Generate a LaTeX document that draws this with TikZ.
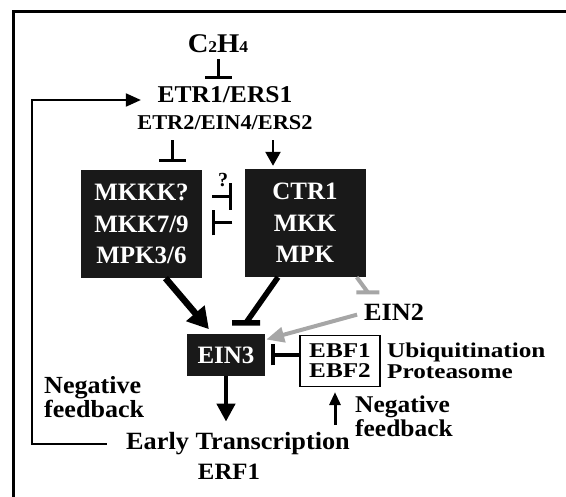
\documentclass[tikz,border=0pt]{standalone}
\usepackage{fontspec}
\setmainfont{Liberation Serif}
\newfontfamily\wideserif{Liberation Serif}[FakeStretch=1.06]
\newfontfamily\widerserif{Liberation Serif}[FakeStretch=1.2]
\usepackage{tikz}
\usetikzlibrary{arrows.meta, positioning, calc}

\begin{document}
\begin{tikzpicture}[
                x=1pt, y=1pt,
                lbl/.style = {inner sep=0pt, anchor=base, font=\wideserif\bfseries\fontsize{24.8}{24.8}\selectfont},
                note/.style = {inner sep=0pt, anchor=north west, align=left},
                kinase/.style = {rectangle, fill=black!90, text=white, align=center, inner sep=0pt,
                                 minimum width=121pt, minimum height=108pt, font=\bfseries\fontsize{25}{31.5}\selectfont},
                act/.style = {-{Triangle[width=15pt, length=14pt]}, line width=2.5pt},
                inhibit/.style = {-{Bar[width=27pt]}, line width=3pt},
                greyline/.style = {draw=black!35, line width=4pt}
              ]
              \useasboundingbox (0,0) rectangle (566,-497);
              \draw[line width=3pt] (13,-510) |- (580,-12);
              % Nodes
              \node[lbl, font=\wideserif\bfseries\fontsize{27}{27}\selectfont] (c2h4) at (218,-53)
                   {C{\fontsize{16.5}{16.5}\selectfont 2}H{\fontsize{16.5}{16.5}\selectfont 4}};
              \node[lbl, font=\wideserif\bfseries\fontsize{24.1}{24.1}\selectfont] (etr1) at (225,-103) {ETR1/ERS1};
              \node[lbl, font=\wideserif\bfseries\fontsize{21.1}{21.1}\selectfont] (etr2) at (225,-130) {ETR2/EIN4/ERS2};
              \node[kinase] (mkkk) at (141.5,-224) {MKKK?\\MKK7/9\\MPK3/6};
              \node[kinase] (ctr1) at (305,-223) {CTR1\\MKK\\MPK};
              \node[lbl, font=\bfseries\fontsize{20}{20}\selectfont] (qm) at (223,-187) {?};
              \node[kinase, minimum width=78pt, minimum height=42pt] (ein3) at (226,-355) {EIN3};
              \node[lbl] (ein2) at (394,-321) {EIN2};
              \node[draw, line width=1.2pt, align=center, inner sep=0pt, minimum width=80pt, minimum height=51pt,
                    font=\widerserif\bfseries\fontsize{21}{20}\selectfont] (ebf) at (340,-361) {EBF1\\EBF2};
              \node[note, font=\widerserif\bfseries\fontsize{21}{21}\selectfont]
                   (ubq) at (387,-343) {Ubiquitination\\Proteasome};
              \node[note, font=\wideserif\bfseries\fontsize{24.6}{22}\selectfont]
                   (negl) at (44,-376) {Negative\\feedback};
              \node[note, font=\wideserif\bfseries\fontsize{24}{24}\selectfont]
                   (negr) at (355,-396) {Negative\\feedback};
              \node[lbl] (erly) at (238,-450) {Early Transcription};
              \node[lbl, font=\wideserif\bfseries\fontsize{23.4}{23.4}\selectfont] (erf1) at (229,-480) {ERF1};
              % Connections
              \coordinate (fb) at (32,-100);
              \draw[-{Triangle[width=13pt, length=15pt]}, line width=2pt, shorten >=16.5pt]
                   ([xshift=-19pt]erly.west) -| (fb) -- (fb -| etr1.west);
              \draw[inhibit, shorten <=6pt, shorten >=8pt] (c2h4.south) -- (c2h4.south |- etr1.north);
              \draw[inhibit, shorten <=10pt, shorten >=8pt] ([xshift=30.5pt]mkkk.north |- etr2.south) -- ([xshift=30.5pt]mkkk.north);
              \draw[act, shorten <=10pt, shorten >=3pt] ([xshift=-32pt]ctr1.north |- etr2.south) -- ([xshift=-32pt]ctr1.north);
              \draw[inhibit, shorten <=10pt, shorten >=12pt] ([yshift=27pt]mkkk.east) -- ([yshift=27pt]mkkk.east -| ctr1.west);
              \draw[inhibit, -{Bar[width=25pt]}, shorten <=12pt, shorten >=10pt] (ctr1.west) -- (ctr1.west -| mkkk.east);
              \draw[-{Triangle[width=23pt, length=21pt]}, line width=6.5pt, shorten >=6pt]
                   ([xshift=24pt]mkkk.south) -- ([xshift=26pt]ein3.north west);
              \draw[line width=5.5pt] ([xshift=-27pt]ctr1.south) -- ([xshift=20pt,yshift=11pt]ein3.north)
                   ++(-14pt,0) -- ++(28pt,0);
              \draw[greyline] ([xshift=-9pt]ctr1.south east) -- ([xshift=4pt,yshift=12pt]ein2.north west)
                   ++(-11.5pt,0) -- ++(23pt,0);
              \draw[greyline, -{Triangle[width=15pt, length=18pt]}, shorten <=7pt, shorten >=1pt]
                   (ein2.west) -- ([yshift=-6pt]ein3.north east);
              \draw[inhibit, -{Bar[width=21pt]}, line width=3.5pt, shorten >=6pt] (ebf.west |- ein3.east) -- (ein3.east);
              \draw[-{Triangle[width=18pt, length=18pt]}, line width=4.5pt, shorten >=11pt]
                   (ein3.south) -- (ein3.south |- erly.north);
              \draw[-{Triangle[width=11pt, length=13pt]}, line width=3pt, shorten >=5pt]
                   ([xshift=-5pt,yshift=-38pt]ebf.south) -- ([xshift=-5pt]ebf.south);
            \end{tikzpicture}
\end{document}
